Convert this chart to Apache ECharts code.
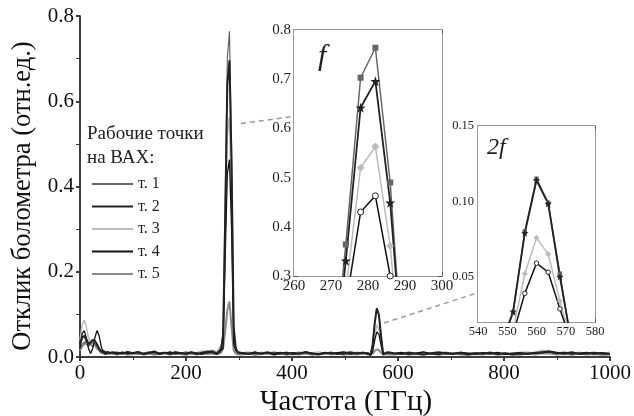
<!DOCTYPE html>
<html>
<head>
<meta charset="utf-8">
<script src="https://cdn.jsdelivr.net/npm/echarts@6/dist/echarts.min.js"></script>
<style>html,body{margin:0;padding:0;background:#fff;}#c{width:634px;height:416px;}</style>
</head>
<body>
<div id="c"></div>
<script>
// Frequency grid (GHz)
const freq = [0,4,8,12,16,20,24,28,32,36,40,44,48,52,56,60,
  70,80,90,100,110,120,130,140,150,160,170,180,190,200,210,220,230,240,250,
  258,262,266,270,274,278,282,286,290,294,298,
  306,318,330,342,354,366,378,390,402,414,426,438,450,462,474,486,498,510,522,534,
  544,548,552,556,560,564,568,572,576,580,
  592,606,620,634,648,662,676,690,704,718,732,746,760,774,788,802,816,830,844,858,872,886,900,914,928,942,956,970,984,1000];

const seriesNames = ['т. 1','т. 2','т. 3','т. 4','т. 5'];

const t1 = [0.02,0.03,0.035,0.03,0.025,0.03,0.035,0.03,0.025,0.02,0.015,0.012,0.01,0.012,0.008,0.01,
  0.008,0.012,0.007,0.01,0.006,0.009,0.012,0.007,0.01,0.008,0.011,0.006,0.009,0.012,0.008,0.01,0.007,0.012,0.015,
  0.01,0.015,0.02,0.06,0.364,0.703,0.764,0.49,0.06,0.02,0.012,
  0.008,0.01,0.006,0.009,0.007,0.01,0.006,0.008,0.01,0.007,0.009,0.006,0.008,0.01,0.007,0.009,0.006,0.008,0.01,0.009,
  0.01,0.005,0.026,0.08,0.115,0.099,0.052,0.005,0.008,0.01,
  0.007,0.009,0.006,0.008,0.01,0.006,0.008,0.007,0.009,0.006,0.008,0.01,0.007,0.006,0.009,0.007,0.008,0.006,0.01,0.008,0.012,0.014,0.009,0.007,0.01,0.008,0.006,0.009,0.007,0.008];

const t2 = [0.03,0.045,0.05,0.04,0.03,0.035,0.04,0.038,0.03,0.02,0.012,0.015,0.01,0.012,0.009,0.011,
  0.01,0.008,0.012,0.009,0.011,0.007,0.01,0.013,0.008,0.01,0.007,0.011,0.009,0.008,0.011,0.007,0.01,0.013,0.012,
  0.008,0.012,0.018,0.05,0.331,0.642,0.696,0.449,0.07,0.02,0.01,
  0.009,0.007,0.01,0.008,0.011,0.006,0.009,0.01,0.007,0.009,0.011,0.008,0.006,0.009,0.01,0.007,0.009,0.011,0.008,0.01,
  0.008,0.005,0.027,0.079,0.114,0.0985,0.05,0.006,0.009,0.011,
  0.009,0.007,0.01,0.008,0.006,0.009,0.011,0.008,0.007,0.01,0.006,0.009,0.008,0.01,0.007,0.009,0.006,0.008,0.007,0.01,0.011,0.013,0.01,0.008,0.011,0.007,0.009,0.01,0.008,0.007];

const t3 = [0.04,0.075,0.087,0.07,0.045,0.035,0.032,0.035,0.03,0.022,0.015,0.01,0.008,0.01,0.012,0.009,
  0.011,0.009,0.013,0.008,0.012,0.01,0.008,0.012,0.009,0.011,0.008,0.013,0.01,0.009,0.012,0.01,0.014,0.012,0.016,
  0.012,0.02,0.025,0.03,0.27,0.52,0.563,0.361,0.04,0.012,0.009,
  0.01,0.012,0.008,0.011,0.009,0.013,0.008,0.011,0.009,0.012,0.008,0.01,0.012,0.009,0.011,0.008,0.012,0.009,0.011,0.01,
  0.009,0.006,0.015,0.052,0.0758,0.065,0.034,0.006,0.01,0.012,
  0.01,0.008,0.012,0.009,0.011,0.008,0.01,0.012,0.009,0.011,0.008,0.01,0.009,0.012,0.008,0.01,0.009,0.011,0.012,0.01,0.016,0.013,0.01,0.012,0.009,0.011,0.008,0.01,0.009,0.011];

const t4 = [0.02,0.055,0.062,0.045,0.02,0.008,0.02,0.045,0.062,0.05,0.025,0.01,0.006,0.01,0.008,0.01,
  0.007,0.011,0.008,0.01,0.012,0.007,0.009,0.011,0.006,0.009,0.012,0.008,0.01,0.007,0.011,0.009,0.006,0.01,0.011,
  0.006,0.01,0.015,0.02,0.24,0.43,0.463,0.3,0.03,0.015,0.012,
  0.01,0.008,0.012,0.007,0.01,0.009,0.011,0.007,0.01,0.008,0.012,0.009,0.007,0.011,0.008,0.01,0.012,0.007,0.009,0.011,
  0.007,0.004,0.012,0.039,0.059,0.053,0.0287,0.006,0.008,0.01,
  0.008,0.011,0.007,0.009,0.012,0.008,0.006,0.01,0.008,0.011,0.009,0.007,0.01,0.008,0.011,0.006,0.009,0.01,0.008,0.009,0.01,0.012,0.008,0.011,0.007,0.009,0.011,0.007,0.01,0.008];

const t5 = [0.015,0.025,0.03,0.04,0.035,0.03,0.025,0.03,0.02,0.015,0.01,0.008,0.01,0.007,0.009,0.008,
  0.006,0.008,0.005,0.007,0.009,0.006,0.008,0.005,0.007,0.009,0.006,0.008,0.007,0.005,0.008,0.006,0.009,0.007,0.008,
  0.007,0.008,0.01,0.02,0.06,0.11,0.13,0.07,0.015,0.008,0.006,
  0.006,0.008,0.005,0.007,0.009,0.006,0.008,0.005,0.007,0.006,0.008,0.005,0.007,0.009,0.006,0.008,0.005,0.007,0.006,0.008,
  0.006,0.006,0.008,0.014,0.018,0.016,0.01,0.006,0.007,0.006,
  0.006,0.008,0.005,0.007,0.006,0.008,0.005,0.007,0.009,0.006,0.005,0.007,0.006,0.008,0.005,0.007,0.006,0.005,0.008,0.006,0.009,0.008,0.006,0.007,0.005,0.008,0.006,0.007,0.005,0.006];

// Tick labels
const inset2YLabels = [0.05,0.10,0.15];
const inset2YTicks = [0.025,0.05,0.075,0.10,0.125,0.15];

const allData = [t1,t2,t3,t4,t5];
const lineColors = ['#666666','#222222','#bbbbbb','#111111','#8a8a8a'];
const lineWidths = [1.2,2.0,1.5,1.3,2.0];
const symbols = ['rect','path://M0,-10 L2.35,-3.24 L9.51,-3.09 L3.8,1.24 L5.88,8.09 L0,4 L-5.88,8.09 L-3.8,1.24 L-9.51,-3.09 L-2.35,-3.24 Z','diamond','circle'];

const SERIF = '"Liberation Serif","DejaVu Serif",serif';
const pairs = arr => freq.map((f,i)=>[f,arr[i]]);

const chart = echarts.init(document.getElementById('c'), null, {renderer:'canvas'});

const mainAxisLine = {show:true, lineStyle:{color:'#333', width:1.5}};
const insetAxisLine = {show:true, lineStyle:{color:'#777', width:1.5}};

const series = [];
[2,4,0,3,1].forEach(k=>{
  series.push({
    type:'line', name:seriesNames[k], xAxisIndex:0, yAxisIndex:0,
    data:pairs(allData[k]), symbol:'none', animation:false,
    lineStyle:{color:lineColors[k], width:lineWidths[k]}, itemStyle:{color:lineColors[k]}
  });
});
function insetSeries(xi, yi, scale){
  [2,3,0,1].forEach(k=>{
    const isCircle = k===3;
    const sizes = [6*scale, 10*scale, 8*scale, 6*scale];
    series.push({
      type:'line', name:'inset'+xi+'_'+k, xAxisIndex:xi, yAxisIndex:yi,
      data:pairs(allData[k]), symbol:symbols[k], symbolSize:sizes[k],
      showSymbol:true, showAllSymbol:true, clip:true, animation:false, z:5,
      lineStyle:{color:k===0?'#666':lineColors[k], width:k===1?1.8:1.5},
      itemStyle: isCircle ? {color:'#fff', borderColor:'#222', borderWidth:1} : {color:k===0?'#666':lineColors[k]}
    });
  });
}
insetSeries(2,2,1);
insetSeries(4,4,0.75);

const option = {
  backgroundColor:'#fff',
  animation:false,
  textStyle:{fontFamily:SERIF},
  grid:[
    {left:80, right:24, top:16, bottom:59, outerBoundsMode:'none', containLabel:false},
    {left:294, width:148, top:30, height:246, show:true, backgroundColor:'#fff', borderWidth:0, z:3, outerBoundsMode:'none', containLabel:false},
    {left:478, width:117, top:126, height:196, show:true, backgroundColor:'#fff', borderWidth:0, z:3, outerBoundsMode:'none', containLabel:false}
  ],
  legend:{
    orient:'vertical', left:86, top:171, itemWidth:41, itemHeight:14, itemGap:6.5,
    selectedMode:false, data:seriesNames,
    itemStyle:{opacity:0},
    textStyle:{fontFamily:SERIF, fontSize:16, lineHeight:16, color:'#222'}
  },
  xAxis:[
    {gridIndex:0, type:'value', min:0, max:1000, interval:200, position:'bottom',
      axisLine:mainAxisLine, axisTick:{inside:false, length:4, lineStyle:{color:'#333', width:1.5}},
      minorTick:{show:true, splitNumber:2, length:3, lineStyle:{color:'#333'}},
      axisLabel:{fontFamily:SERIF, fontSize:21, color:'#111', margin:6, formatter:v=>String(v)}, splitLine:{show:false}},
    {gridIndex:0, type:'value', min:0, max:1000, interval:200, position:'top',
      axisLine:mainAxisLine, axisTick:{inside:true, length:4, lineStyle:{color:'#333', width:1.5}},
      minorTick:{show:true, splitNumber:2, length:3, lineStyle:{color:'#333'}},
      axisLabel:{show:false}, splitLine:{show:false}},
    {gridIndex:1, type:'value', min:260, max:300, interval:10, position:'bottom',
      axisLine:insetAxisLine, axisTick:{inside:true, length:4, lineStyle:{color:'#555'}},
      minorTick:{show:true, splitNumber:2, length:3, lineStyle:{color:'#555'}},
      axisLabel:{fontFamily:SERIF, fontSize:15, color:'#222', margin:3}, splitLine:{show:false}},
    {gridIndex:1, type:'value', min:260, max:300, interval:10, position:'top',
      axisLine:insetAxisLine, axisTick:{inside:true, length:4, lineStyle:{color:'#555'}},
      minorTick:{show:true, splitNumber:2, length:3, lineStyle:{color:'#555'}},
      axisLabel:{show:false}, splitLine:{show:false}},
    {gridIndex:2, type:'value', min:540, max:580, interval:10, position:'bottom',
      axisLine:insetAxisLine, axisTick:{inside:true, length:4, lineStyle:{color:'#555'}},
      minorTick:{show:true, splitNumber:2, length:3, lineStyle:{color:'#555'}},
      axisLabel:{fontFamily:SERIF, fontSize:12.5, color:'#222', margin:3}, splitLine:{show:false}},
    {gridIndex:2, type:'value', min:540, max:580, interval:10, position:'top',
      axisLine:insetAxisLine, axisTick:{inside:true, length:4, lineStyle:{color:'#555'}},
      minorTick:{show:true, splitNumber:2, length:3, lineStyle:{color:'#555'}},
      axisLabel:{show:false}, splitLine:{show:false}}
  ],
  yAxis:[
    {gridIndex:0, type:'value', min:0, max:0.8, interval:0.2, position:'left',
      axisLine:mainAxisLine, axisTick:{inside:false, length:4, lineStyle:{color:'#333', width:1.5}},
      minorTick:{show:true, splitNumber:2, length:3, lineStyle:{color:'#333'}},
      axisLabel:{fontFamily:SERIF, fontSize:21, color:'#111', margin:6, formatter:v=>v.toFixed(1)}, splitLine:{show:false}},
    {gridIndex:0, type:'value', min:0, max:0.8, interval:0.2, position:'right',
      axisLine:mainAxisLine, axisTick:{inside:true, length:4, lineStyle:{color:'#333', width:1.5}},
      minorTick:{show:true, splitNumber:2, length:4, lineStyle:{color:'#333'}},
      axisLabel:{show:false}, splitLine:{show:false}},
    {gridIndex:1, type:'value', min:0.3, max:0.8, interval:0.1, position:'left',
      axisLine:insetAxisLine, axisTick:{inside:true, length:4, lineStyle:{color:'#555'}},
      minorTick:{show:true, splitNumber:2, length:3, lineStyle:{color:'#555'}},
      axisLabel:{fontFamily:SERIF, fontSize:15, color:'#222', margin:3, formatter:v=>v.toFixed(1)}, splitLine:{show:false}},
    {gridIndex:1, type:'value', min:0.3, max:0.8, interval:0.1, position:'right',
      axisLine:insetAxisLine, axisTick:{inside:true, length:4, lineStyle:{color:'#555'}},
      minorTick:{show:true, splitNumber:2, length:3, lineStyle:{color:'#555'}},
      axisLabel:{show:false}, splitLine:{show:false}},
    {gridIndex:2, type:'value', min:0.02, max:0.15, position:'left',
      axisLine:insetAxisLine, axisTick:{inside:true, length:4, customValues:inset2YTicks, lineStyle:{color:'#555'}},
      axisLabel:{fontFamily:SERIF, fontSize:12.5, color:'#222', margin:4, customValues:inset2YLabels, formatter:v=>v.toFixed(2)},
      splitLine:{show:false}},
    {gridIndex:2, type:'value', min:0.02, max:0.15, position:'right',
      axisLine:insetAxisLine, axisTick:{inside:true, length:4, customValues:inset2YTicks, lineStyle:{color:'#555'}},
      axisLabel:{show:false}, splitLine:{show:false}}
  ],
  graphic:[
    {type:'text', x:23, y:196, rotation:Math.PI/2, z:10, style:{text:'Отклик болометра (отн.ед.)', fontFamily:SERIF, fontSize:26.5, fill:'#111', align:'center', verticalAlign:'middle'}},
    {type:'text', x:346, y:402, z:10, style:{text:'Частота (ГГц)', fontFamily:SERIF, fontSize:29, fill:'#111', align:'center', verticalAlign:'middle'}},
    {type:'text', left:87, top:122, z:10, style:{text:'Рабочие точки\nна ВАХ:', fontFamily:SERIF, fontSize:19, lineHeight:24, fill:'#222'}},
    {type:'text', left:318, top:42, z:10, style:{text:'f', fontFamily:SERIF, fontStyle:'italic', fontSize:30, fill:'#222'}},
    {type:'text', left:487, top:136, z:10, style:{text:'2f', fontFamily:SERIF, fontStyle:'italic', fontSize:24, fill:'#222'}},
    {type:'line', z:10, shape:{x1:241, y1:123.5, x2:293, y2:116.5}, style:{stroke:'#999', lineWidth:1.5, lineDash:[5,4]}},
    {type:'line', z:10, shape:{x1:384, y1:323, x2:477, y2:293}, style:{stroke:'#999', lineWidth:1.5, lineDash:[5,4]}}
  ],
  series:series
};
chart.setOption(option);
</script>
</body>
</html>
